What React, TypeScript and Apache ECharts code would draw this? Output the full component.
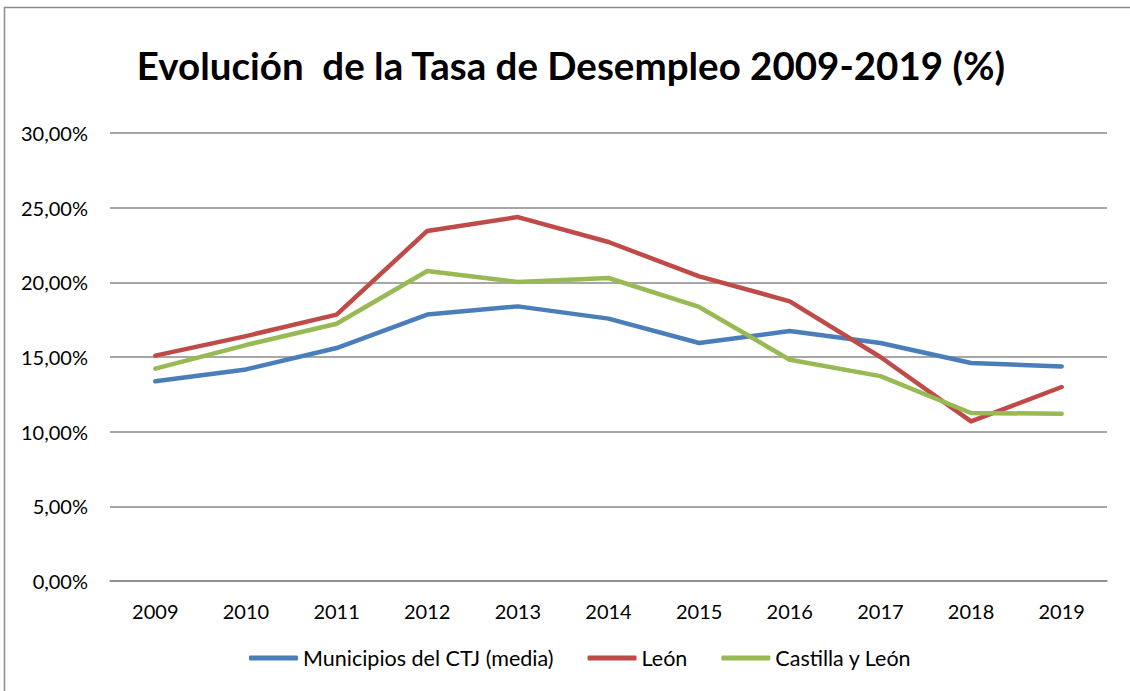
import React, { useEffect, useRef } from "react";
import * as echarts from "echarts";

const years = ["2009", "2010", "2011", "2012", "2013", "2014", "2015", "2016", "2017", "2018", "2019"];
const municipiosCTJ = [13.37, 14.17, 15.6, 17.84, 18.39, 17.57, 15.94, 16.74, 15.94, 14.6, 14.37];
const leon = [15.09, 16.4, 17.84, 23.44, 24.37, 22.7, 20.4, 18.73, 15.0, 10.69, 12.99];
const castillaLeon = [14.22, 15.8, 17.23, 20.76, 20.02, 20.29, 18.35, 14.82, 13.72, 11.25, 11.2];
const seriesNames = ["Municipios del CTJ (media)", "León", "Castilla y León"];
const titleText = "Evolución  de la Tasa de Desempleo 2009-2019 (%)";

const FONT = "Lato, 'Liberation Sans', sans-serif";
const GRID_COLOR = "#8a8a8a";

export default function App() {
  const ref = useRef<HTMLDivElement>(null);
  useEffect(() => {
    if (!ref.current) return;
    const chart = echarts.init(ref.current, undefined, { renderer: "svg" });
    const mk = (name: string, data: number[], color: string) => ({
      name,
      type: "line",
      data,
      symbol: "none",
      showSymbol: false,
      lineStyle: { color, width: 4.5, cap: "round", join: "round" },
      itemStyle: { color },
    });
    chart.setOption({
      animation: false,
      backgroundColor: "#ffffff",
      textStyle: { fontFamily: FONT },
      title: {
        text: titleText,
        left: 566,
        textAlign: "center",
        top: 40,
        textStyle: { fontFamily: FONT, fontWeight: "bold", fontSize: 38.5, color: "#000" },
      },
      graphic: [
        {
          type: "rect",
          shape: { x: 4.5, y: 7.5, width: 1200, height: 800 },
          style: { fill: "none", stroke: "#8c8c8c", lineWidth: 1.5 },
          silent: true,
        },
      ],
      grid: { left: 110, right: 23, top: 133, bottom: 110 },
      legend: {
        data: seriesNames,
        icon: "roundRect",
        bottom: 17,
        left: 244,
        itemWidth: 49,
        itemHeight: 5,
        itemGap: 34,
        textStyle: { fontFamily: FONT, fontSize: 21.5, color: "#000" },
      },
      xAxis: {
        type: "category",
        data: years,
        boundaryGap: true,
        axisLine: { show: true, lineStyle: { color: GRID_COLOR, width: 1.5 } },
        axisTick: { show: false },
        axisLabel: { fontFamily: FONT, fontSize: 20, color: "#000", margin: 20 },
      },
      yAxis: {
        type: "value",
        min: 0,
        max: 30,
        interval: 5,
        axisLine: { show: false },
        axisTick: { show: false },
        splitLine: { show: true, lineStyle: { color: GRID_COLOR, width: 1.5 } },
        axisLabel: {
          fontFamily: FONT,
          fontSize: 20,
          color: "#000",
          margin: 22,
          formatter: (v: number) => v.toFixed(2).replace(".", ",") + "%",
        },
      },
      series: [
        mk(seriesNames[0], municipiosCTJ, "#4a7ebb"),
        mk(seriesNames[1], leon, "#be4b48"),
        mk(seriesNames[2], castillaLeon, "#98b954"),
      ],
    });
    return () => chart.dispose();
  }, []);
  return (
    <div
      ref={ref}
      style={{ position: "fixed", left: 0, top: 0, width: 1130, height: 691, background: "#fff" }}
    />
  );
}
